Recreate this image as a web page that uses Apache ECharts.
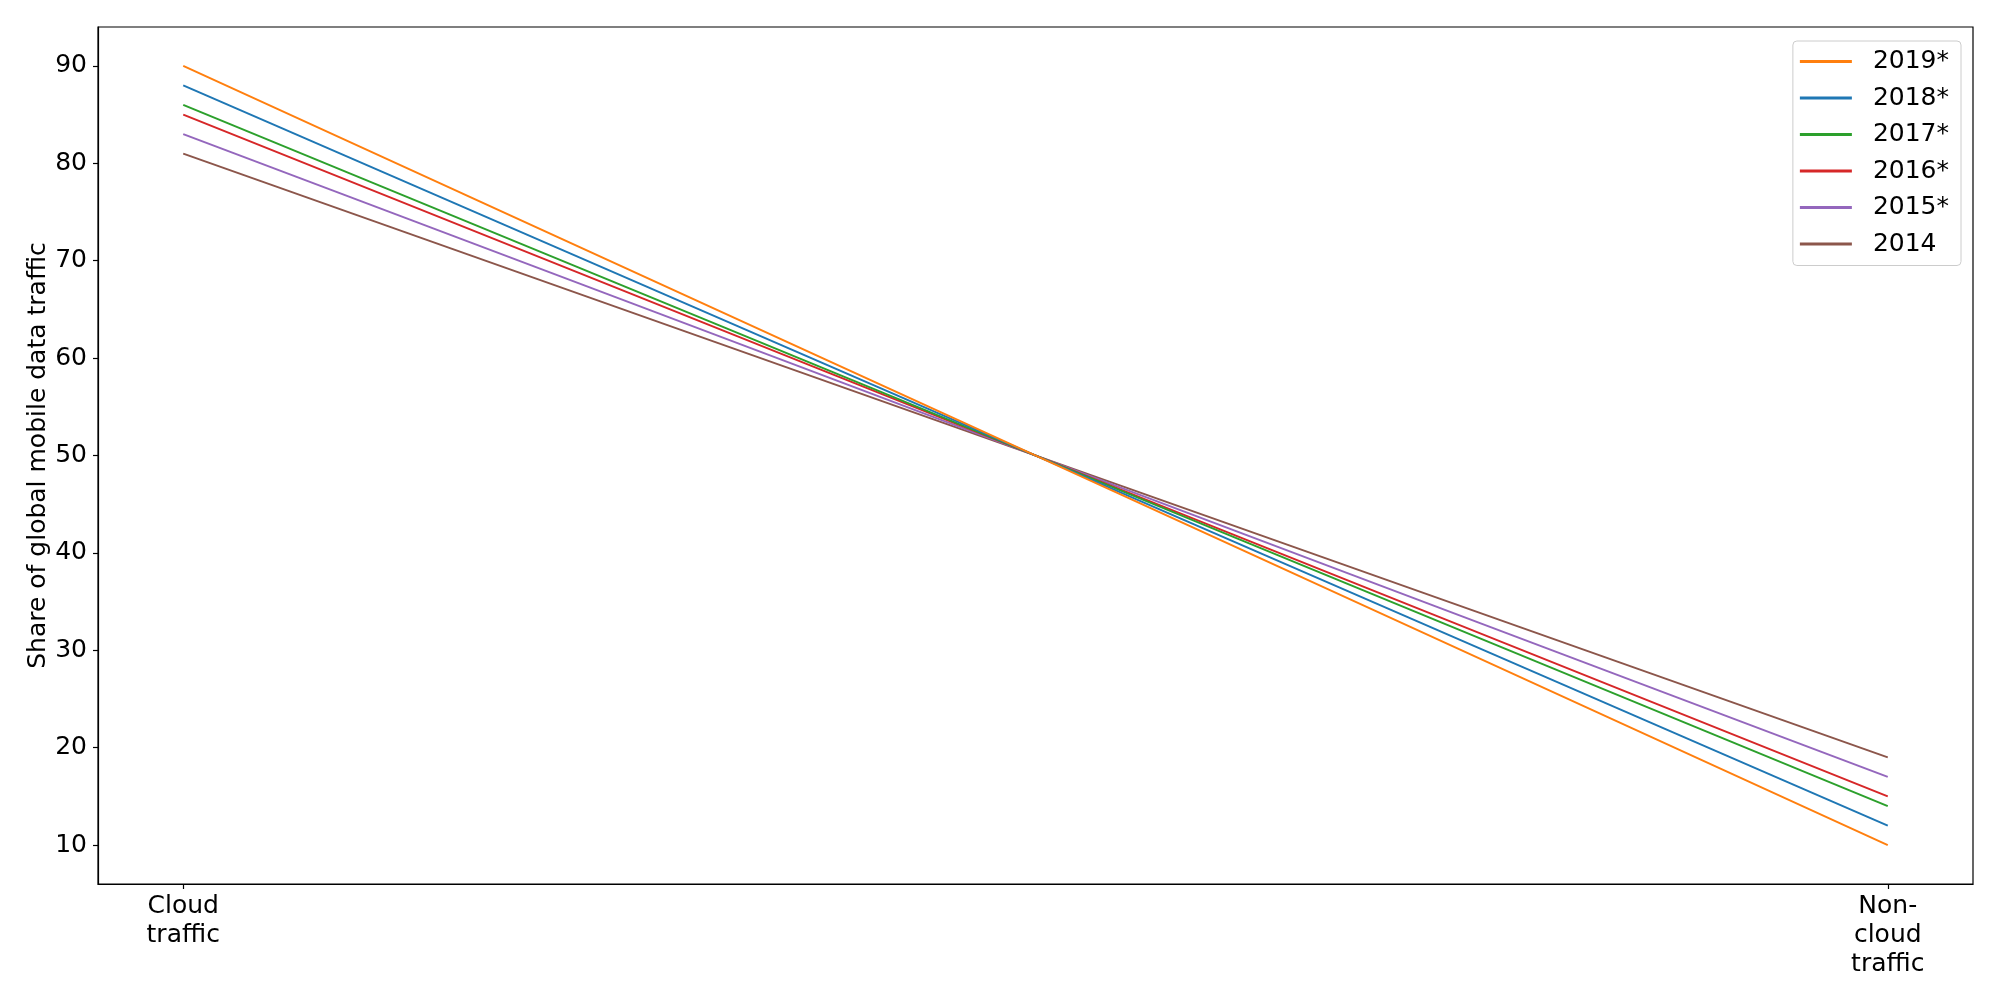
<!DOCTYPE html>
<html>
<head>
<meta charset="utf-8">
<script src="https://cdn.jsdelivr.net/npm/echarts@6/dist/echarts.min.js"></script>
<style>html,body{margin:0;padding:0;background:#fff}#c{width:2000px;height:1000px}</style>
</head>
<body>
<div id="c"></div>
<script>
const categories = ['Cloud\ntraffic', 'Non-\ncloud\ntraffic'];
const seriesNames = ['2019*', '2018*', '2017*', '2016*', '2015*', '2014'];
const v2019 = [90, 10];
const v2018 = [88, 12];
const v2017 = [86, 14];
const v2016 = [85, 15];
const v2015 = [83, 17];
const v2014 = [81, 19];
const yTicks = [10, 20, 30, 40, 50, 60, 70, 80, 90];
const colors = ['#ff7f0e', '#1f77b4', '#2ca02c', '#d62728', '#9467bd', '#8c564b'];
const values = [v2019, v2018, v2017, v2016, v2015, v2014];

const chart = echarts.init(document.getElementById('c'));
const font = 'DejaVu Sans';
chart.setOption({
  animation: false,
  textStyle: { fontFamily: font },
  grid: { left: 98, right: 27, top: 27, bottom: 116, show: true, borderColor: '#000', borderWidth: 1.2, containLabel: false },
  legend: {
    data: seriesNames,
    orient: 'vertical',
    right: 39, top: 41,
    backgroundColor: 'rgba(255,255,255,0.8)',
    borderColor: '#cccccc', borderWidth: 1, borderRadius: 4,
    padding: [8, 12, 9, 7],
    icon: 'rect', itemWidth: 52, itemHeight: 3, itemGap: 11.5,
    textStyle: { fontSize: 25, lineHeight: 25, color: '#000', fontFamily: font, padding: [0, 0, 0, 16] }
  },
  xAxis: {
    type: 'value', min: -0.05, max: 1.05,
    splitLine: { show: false },
    axisLine: { show: true, onZero: false, lineStyle: { color: '#000', width: 1.2 } },
    axisTick: { show: true, length: 5, customValues: [0, 1], lineStyle: { color: '#000', width: 1.2 } },
    axisLabel: {
      customValues: [0, 1], margin: 8, fontSize: 25, lineHeight: 29, color: '#000', fontFamily: font,
      formatter: v => categories[Math.round(v)]
    }
  },
  yAxis: {
    type: 'value', min: 6, max: 94,
    name: 'Share of global mobile data traffic', nameLocation: 'middle', nameGap: 47,
    nameMoveOverlap: false,
    nameTextStyle: { fontSize: 25, color: '#000', fontFamily: font },
    splitLine: { show: false },
    axisLine: { show: true, onZero: false, lineStyle: { color: '#000', width: 1.2 } },
    axisTick: { show: true, length: 5, customValues: yTicks, lineStyle: { color: '#000', width: 1.2 } },
    axisLabel: { customValues: yTicks, margin: 11, fontSize: 25, color: '#000', fontFamily: font }
  },
  series: seriesNames.map((n, i) => ({
    name: n, type: 'line', symbol: 'none', color: colors[i],
    lineStyle: { width: 2, color: colors[i] },
    data: values[i].map((v, j) => [j, v]),
    z: 10 - i
  }))
});
</script>
</body>
</html>
